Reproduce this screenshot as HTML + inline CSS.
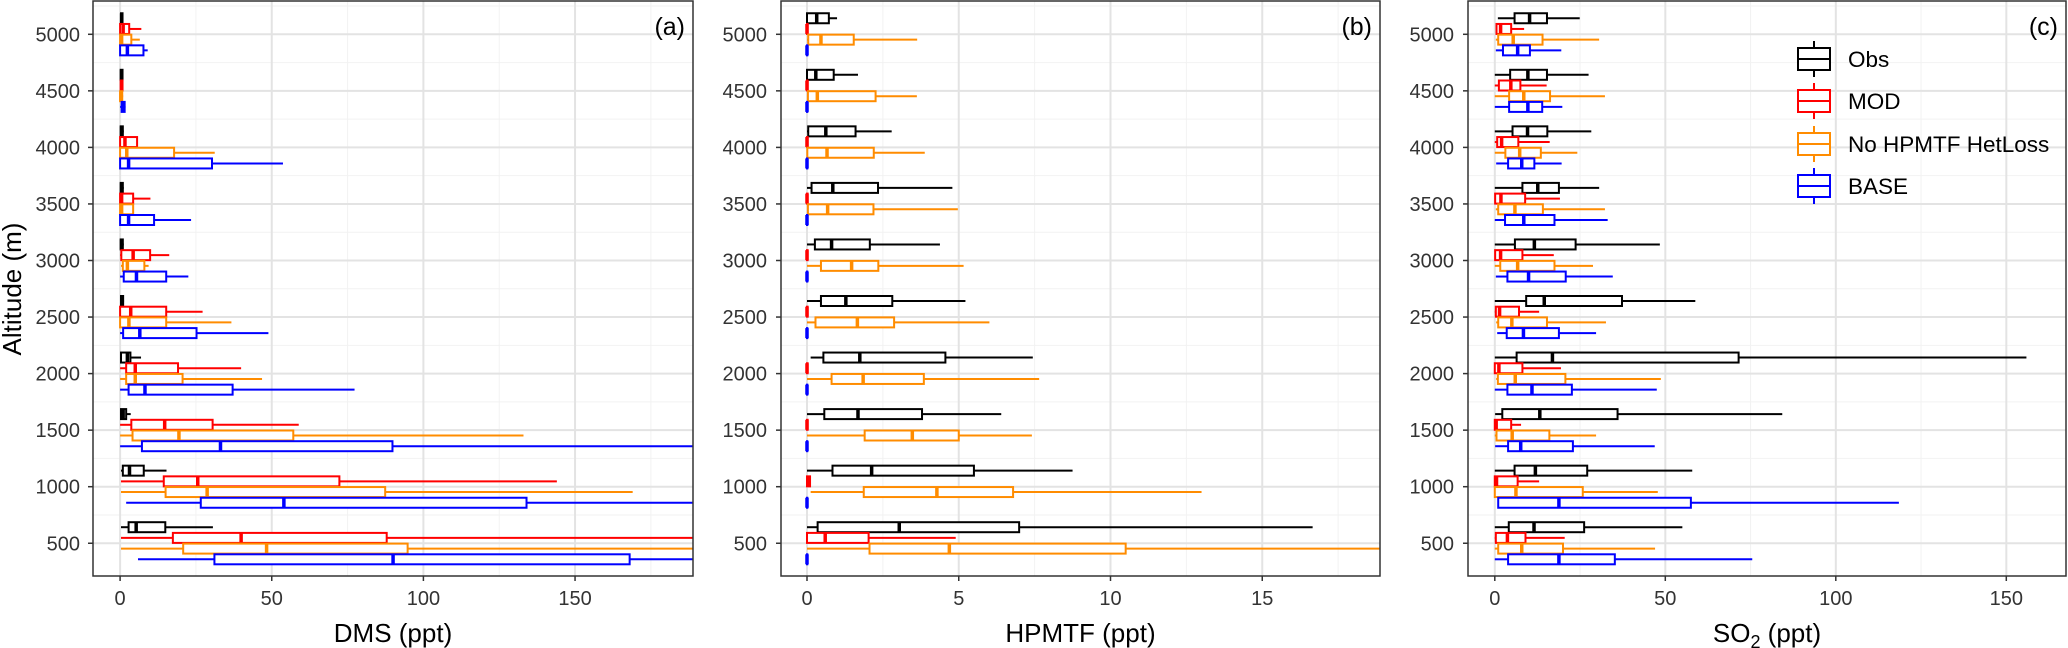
<!DOCTYPE html>
<html><head><meta charset="utf-8">
<style>
body{margin:0;background:#fff;}
svg{display:block;font-family:"Liberation Sans",Arial,sans-serif;}
</style></head>
<body>
<svg id="chart" width="2068" height="648" viewBox="0 0 2068 648"></svg>
<script>
// ---- data: each entry = [lowWhisker, q1, median, q3, highWhisker], altitudes 500..5000
const altitudes = [500,1000,1500,2000,2500,3000,3500,4000,4500,5000];
const seriesNames = ["Obs","MOD","No HPMTF HetLoss","BASE"];

const dmsObs = [[0.3,2.8,5.3,14.9,30.6],[0.3,0.9,3.1,7.8,15.3],[0,0.3,1,2,3.5],[0,0.3,2.4,3.4,6.9],[0,0.3,0.6,1,1.3],[0,0.2,0.5,0.9,1.2],[0,0.2,0.5,0.9,1.2],[0,0.2,0.5,0.9,1.2],[0,0.2,0.5,0.8,1],[0,0.3,0.5,0.8,1]];
const dmsMod = [[0.3,17.4,39.9,87.9,220],[0.3,14.4,25.6,72.3,144],[0,3.7,14.7,30.5,58.9],[0,2,5,19.1,39.9],[0,0,3.5,15.2,27.2],[0,0.4,4.3,9.9,16.2],[0,0,0.5,4.3,10],[0,0,1.6,5.6,5.6],[0,0.2,0.5,0.8,1],[0,0,1,3,7]];
const dmsNoHet = [[0.3,20.8,48.3,94.8,230],[0.3,15,28.7,87.4,169],[0,4.1,19.4,57.1,133],[0,2,5,20.6,46.8],[0,0,2.9,15.2,36.7],[0.3,0.9,2.4,8,9.4],[0,0,0.5,4.3,4.3],[0,0,2.2,17.8,31.2],[0,0,0.3,0.7,1],[0,0,0.5,3.7,6.5]];
const dmsBase = [[5.9,31.1,90,168,240],[2,26.6,54,134,210],[0,7.2,33.1,89.8,200],[0,2.8,8.2,37.1,77.3],[0,1,6.5,25.2,48.9],[0,1.2,5.4,15.2,22.5],[0,0,2.8,11.2,23.4],[0,0,2.8,30.3,53.7],[0,0.5,1,1.5,1.8],[0,0,2.4,7.7,9.1]];

const hpObs = [[0,0.35,3.04,6.99,16.66],[0,0.84,2.13,5.5,8.75],[0,0.57,1.68,3.79,6.4],[0.12,0.54,1.74,4.56,7.44],[0,0.46,1.28,2.81,5.22],[0,0.26,0.81,2.07,4.38],[0,0.15,0.85,2.34,4.79],[0,0.04,0.62,1.6,2.79],[0,0,0.29,0.88,1.68],[0,0,0.32,0.72,0.99]];
const hpMod = [[0,0,0.6,2.03,4.9],[0,0,0.05,0.1,0.12],[0,0,0,0.02,0.04],[0,0,0,0.02,0.04],[0,0,0,0.02,0.04],[0,0,0,0.02,0.04],[0,0,0,0.02,0.04],[0,0,0,0.02,0.04],[0,0,0,0.02,0.04],[0,0,0,0.02,0.04]];
const hpNoHet = [[0,2.06,4.69,10.5,20],[0.12,1.87,4.28,6.79,13],[0,1.9,3.47,5,7.41],[0,0.81,1.85,3.85,7.65],[0,0.28,1.66,2.87,6.01],[0,0.46,1.47,2.35,5.16],[0,0.03,0.68,2.19,4.97],[0,0.01,0.66,2.2,3.88],[0,0.03,0.34,2.26,3.62],[0,0.04,0.46,1.54,3.63]];
const hpBase = [[0,0,0,0.01,0.02],[0,0,0,0.01,0.02],[0,0,0,0.01,0.02],[0,0,0,0.01,0.02],[0,0,0,0.01,0.02],[0,0,0,0.01,0.02],[0,0,0,0.01,0.02],[0,0,0,0.01,0.02],[0,0,0,0.01,0.02],[0,0,0,0.01,0.02]];

const so2Obs = [[0,4.1,11.5,26.2,55],[0,5.8,11.9,27.1,57.9],[0.1,2.2,13.2,36,84.3],[0,6.4,16.9,71.5,155.9],[0,9.2,14.5,37.3,58.8],[0,5.9,11.6,23.7,48.4],[0,8.1,12.6,18.8,30.6],[0,5.2,9.6,15.4,28.3],[0,4.5,9.7,15.3,27.5],[0.9,5.8,10.2,15.3,24.9]];
const so2Mod = [[0,0.3,3.7,9,20.5],[0,0,0.5,6.7,13],[0,0,0.4,4.8,7.7],[0,0,1.2,8.1,19.4],[0,0.3,1.4,7.1,13],[0,0.1,1.7,8.1,17.3],[0,0.1,1.8,8.9,19.1],[0,0.7,2,6.9,16.1],[0,1.2,4.7,7.5,15.2],[0.3,0.5,1.7,4.8,8.6]];
const so2NoHet = [[0,1,7.9,20,47],[0,0,6.2,25.8,47.8],[0,0.5,5.1,16,29.7],[0.4,0.9,6,20.7,48.7],[0.4,1,5,15.3,32.6],[0,1.6,6.7,17.5,28.8],[0.3,1,5.9,14.1,32.3],[0,3.1,7.3,13.5,24.2],[0,4.2,8.5,16.2,32.3],[0.3,1,5.4,14,30.6]];
const so2Base = [[0,3.9,18.8,35.2,75.5],[0.8,1,18.8,57.5,118.5],[0.1,3.9,7.6,22.9,46.9],[0,3.7,10.9,22.6,47.5],[0.7,3.5,8.4,18.8,29.7],[0.3,3.7,9.9,20.8,34.6],[0,3,8.5,17.5,33.1],[0.4,3.9,7.9,11.6,19.6],[0,4.2,9.7,13.9,19.8],[0.3,2.4,6.7,10.3,19.5]];

const yTicks = [500,1000,1500,2000,2500,3000,3500,4000,4500,5000];
const dmsTicks = [0,50,100,150];
const hpTicks = [0,5,10,15];
const so2Ticks = [0,50,100,150];

const colors = ["#000000","#ff0000","#ff8c00","#0000ff"];
const NS = "http://www.w3.org/2000/svg";
const svg = document.getElementById("chart");
function mk(tag, attrs, parent){ const e=document.createElementNS(NS,tag); for(const k in attrs) e.setAttribute(k,attrs[k]); (parent||svg).appendChild(e); return e; }

const TOP=1, BOTTOM=576;
function yScale(alt){ return 34.3 + (5000-alt)*0.1131; }

const panels = [
 {id:"a", left:93, right:693, x0:120.1, perUnit:3.033, ticks:dmsTicks, minor:25, series:[dmsObs,dmsMod,dmsNoHet,dmsBase], title:"DMS (ppt)", label:"(a)", ytickRight:80},
 {id:"b", left:781, right:1380, x0:807, perUnit:30.35, ticks:hpTicks, minor:2.5, series:[hpObs,hpMod,hpNoHet,hpBase], title:"HPMTF (ppt)", label:"(b)", ytickRight:767},
 {id:"c", left:1468, right:2066, x0:1494.8, perUnit:3.41, ticks:so2Ticks, minor:25, series:[so2Obs,so2Mod,so2NoHet,so2Base], title:"SO2", label:"(c)", ytickRight:1454}
];

panels.forEach(p=>{
  const xs = v => p.x0 + v*p.perUnit;
  const g = mk("g",{});
  
  
  const maxV=(p.right-p.x0)/p.perUnit;
  for(let v=p.minor; v<maxV; v+=p.minor*2){ mk("line",{x1:xs(v),x2:xs(v),y1:TOP,y2:BOTTOM,stroke:"#f2f2f2","stroke-width":1},g); }
  for(let a=750;a<=5250;a+=500){ mk("line",{x1:p.left,x2:p.right,y1:yScale(a),y2:yScale(a),stroke:"#f2f2f2","stroke-width":1},g); }
  p.ticks.forEach(t=>{ mk("line",{x1:xs(t),x2:xs(t),y1:TOP,y2:BOTTOM,stroke:"#e3e3e3","stroke-width":2},g); });
  yTicks.forEach(t=>{ mk("line",{x1:p.left,x2:p.right,y1:yScale(t),y2:yScale(t),stroke:"#e3e3e3","stroke-width":2},g); });
  const cp = mk("clipPath",{id:"clip"+p.id});
  mk("rect",{x:p.left,y:TOP,width:p.right-p.left,height:BOTTOM-TOP},cp);
  const marks = mk("g",{"clip-path":"url(#clip"+p.id+")"},g);
  p.series.forEach((ser,si)=>{
    ser.forEach((d,li)=>{
      const yc = yScale(altitudes[li]) + (si-1.5)*10.7;
      const bg = mk("g",{},marks);
      
      
      const c=colors[si];
      mk("line",{x1:xs(d[0]),x2:xs(d[1]),y1:yc,y2:yc,stroke:c,"stroke-width":2},bg);
      mk("line",{x1:xs(d[3]),x2:xs(d[4]),y1:yc,y2:yc,stroke:c,"stroke-width":2},bg);
      mk("rect",{x:xs(d[1]),y:yc-5,width:Math.max(0,xs(d[3])-xs(d[1])),height:10,fill:"#fff",stroke:c,"stroke-width":2},bg);
      mk("line",{x1:xs(d[2]),x2:xs(d[2]),y1:yc-5,y2:yc+5,stroke:c,"stroke-width":3.5},bg);
    });
  });
  const br=mk("rect",{x:p.left,y:TOP,width:p.right-p.left,height:BOTTOM-TOP,fill:"none",stroke:"#333","stroke-width":1.5},g);
  
  
  p.ticks.forEach(t=>{
    mk("line",{x1:xs(t),x2:xs(t),y1:BOTTOM,y2:BOTTOM+5,stroke:"#333","stroke-width":1.5},g);
    const tx=mk("text",{x:xs(t),y:605,"text-anchor":"middle","font-size":20,fill:"#333"},g);
    tx.textContent=t;
    
    
  });
  yTicks.forEach(t=>{
    mk("line",{x1:p.left-5,x2:p.left,y1:yScale(t),y2:yScale(t),stroke:"#333","stroke-width":1.5},g);
    const ty=mk("text",{x:p.ytickRight,y:yScale(t)+7,"text-anchor":"end","font-size":20,fill:"#333"},g);
    ty.textContent=t;
    
    
  });
  const xt=mk("text",{x:(p.left+p.right)/2,y:642,"text-anchor":"middle","font-size":26,fill:"#000"},g);
  if(p.id==="c"){ xt.innerHTML='SO<tspan font-size="18" dy="6">2</tspan><tspan dy="-6"> (ppt)</tspan>'; }
  else xt.textContent=p.title;
  
  
  const lb=mk("text",{x:p.right-8,y:35,"text-anchor":"end","font-size":25,fill:"#000"},g);
  lb.textContent=p.label;
  
  
});

const yt=mk("text",{x:0,y:0,transform:"translate(21,289) rotate(-90)","text-anchor":"middle","font-size":26,fill:"#000"});
yt.textContent="Altitude (m)";



const lg=mk("g",{});


const legY=[59,101,144,186];
seriesNames.forEach((n,i)=>{
  const e=mk("g",{},lg);
  
  
  const y=legY[i], c=colors[i];
  mk("line",{x1:1814,x2:1814,y1:y-18,y2:y+18,stroke:c,"stroke-width":2},e);
  mk("rect",{x:1798,y:y-11,width:32,height:22,fill:"#fff",stroke:c,"stroke-width":2},e);
  mk("line",{x1:1798,x2:1830,y1:y,y2:y,stroke:c,"stroke-width":2},e);
  const t=mk("text",{x:1848,y:y+8,"font-size":22.5,fill:"#000"},e);
  t.textContent=n;
});
</script>
</body></html>
